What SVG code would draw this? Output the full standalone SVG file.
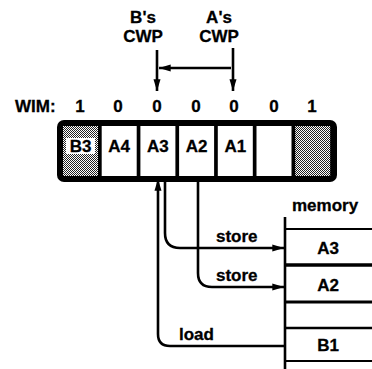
<svg xmlns="http://www.w3.org/2000/svg" width="372" height="369" viewBox="0 0 372 369">
<style>
text{font-family:"Liberation Sans",Arial,Helvetica,sans-serif;font-weight:bold;fill:#000;stroke:#000;stroke-width:0.3}
.t{font-size:17px}
.c{text-anchor:middle}
.ln{fill:none;stroke:#000;stroke-width:2.6}
.mem{stroke:#000}
</style>
<defs>
<pattern id="dots" width="2" height="2" patternUnits="userSpaceOnUse">
<rect width="2" height="2" fill="#fff"/>
<rect width="1" height="1" fill="#222"/>
<rect x="1" y="1" width="1" height="1" fill="#222"/>
</pattern>
<marker id="ah" viewBox="0 0 10 6" refX="10" refY="3" markerWidth="4.5" markerHeight="2.7" orient="auto" markerUnits="strokeWidth">
<path d="M0,0 L10,3 L0,6 z" fill="#000"/>
</marker>
</defs>

<g id="labels-top">
<text class="t c" x="143" y="23">B's</text>
<text class="t c" x="143" y="42">CWP</text>
<text class="t c" x="219" y="23">A's</text>
<text class="t c" x="219" y="42">CWP</text>
</g>

<g id="wim">
<text class="t" x="15" y="112">WIM:</text>
<text class="t c" x="80" y="112">1</text>
<text class="t c" x="118" y="112">0</text>
<text class="t c" x="157" y="112">0</text>
<text class="t c" x="196" y="112">0</text>
<text class="t c" x="234" y="112">0</text>
<text class="t c" x="274" y="112">0</text>
<text class="t c" x="312" y="112">1</text>
</g>

<g id="register">
<rect x="57" y="120" width="280" height="62" rx="7" fill="#000"/>
<g id="cell-B3"><rect x="63" y="126" width="35" height="50" fill="url(#dots)"/><rect x="66" y="138" width="29" height="16" fill="#fff"/><text class="t c" x="80.5" y="152">B3</text></g>
<g id="cell-A4"><rect x="101.7" y="126" width="35" height="50" fill="#fff"/><text class="t c" x="119.2" y="152">A4</text></g>
<g id="cell-A3"><rect x="140.4" y="126" width="35" height="50" fill="#fff"/><text class="t c" x="157.9" y="152">A3</text></g>
<g id="cell-A2"><rect x="179.1" y="126" width="35" height="50" fill="#fff"/><text class="t c" x="196.6" y="152">A2</text></g>
<g id="cell-A1"><rect x="217.8" y="126" width="35" height="50" fill="#fff"/><text class="t c" x="235.3" y="152">A1</text></g>
<g id="cell-empty"><rect x="256.5" y="126" width="35" height="50" fill="#fff"/></g>
<g id="cell-inv"><rect x="295.2" y="126" width="35" height="50" fill="url(#dots)"/></g>
</g>

<g id="memory">
<text class="t" x="292" y="211">memory</text>
<line class="mem" x1="285" y1="217" x2="285" y2="369" stroke-width="2.6"/>
<line class="mem" x1="285" y1="229" x2="372" y2="229" stroke-width="2"/>
<line class="mem" x1="285" y1="265" x2="372" y2="265" stroke-width="3.5"/>
<line class="mem" x1="285" y1="302" x2="372" y2="302" stroke-width="3"/>
<line class="mem" x1="285" y1="328" x2="372" y2="328" stroke-width="2.5"/>
<line class="mem" x1="285" y1="361" x2="372" y2="361" stroke-width="2"/>
<text class="t c" x="328" y="254">A3</text>
<text class="t c" x="328" y="291">A2</text>
<text class="t c" x="328" y="351">B1</text>
</g>

<g id="connectors">
<line class="ln" x1="157" y1="50" x2="157" y2="91" marker-end="url(#ah)"/>
<line class="ln" x1="233" y1="48" x2="233" y2="91" marker-end="url(#ah)"/>
<line class="ln" x1="231" y1="68" x2="159" y2="68" marker-end="url(#ah)"/>
<path class="ln" d="M165,178 V233 Q165,248 180,248 H284" marker-end="url(#ah)"/>
<path class="ln" d="M198,178 V273 Q198,287 212,287 H284" marker-end="url(#ah)"/>
<path class="ln" d="M285,346 H170 Q158,346 158,334 V179" marker-end="url(#ah)"/>
<text class="t" x="216" y="242">store</text>
<text class="t" x="216" y="281">store</text>
<text class="t" x="179" y="340">load</text>
</g>
</svg>
